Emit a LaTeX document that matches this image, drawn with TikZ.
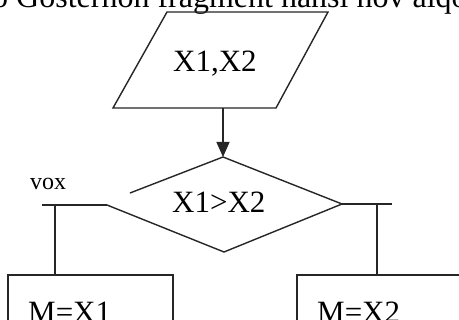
\documentclass[tikz,border=0pt]{standalone}
\usepackage{fontspec}
\setmainfont{Liberation Serif}
\usetikzlibrary{arrows.meta}
\begin{document}
\begin{tikzpicture}[x=1pt,y=-1pt,
  ln/.style={line width=1.4pt,draw=black!85},
  lbl/.style={inner sep=0pt,anchor=base west,font=\fontsize{31}{31}\selectfont}]
\useasboundingbox (0,0) rectangle (459,320);
\clip (0,0) rectangle (459,320);
\fill[white] (0,0) rectangle (459,320);
% header line (cut off)
\node[inner sep=0pt,anchor=base west,font=\fontsize{32}{32}\selectfont] (hdr) at (-8,8) {o Gosternon fragment nansi nov alqo};
% parallelogram
\draw[ln] (167,12) -- (328,12) -- (276,108) -- (113,108) -- cycle;
\node[lbl] (in) at (173,72) {X1,X2};
\coordinate (inb) at (223,108);
% decision
\coordinate (dt) at (223,157);
\coordinate (dl) at (107,205);
\coordinate (dr) at (342,204);
\coordinate (db) at (224,252);
\draw[ln] (130,193) -- (dt) -- (dr) -- (db) -- (dl);
\node[lbl] (cond) at (172,213) {X1>X2};
\draw[ln,-{Triangle[length=15pt,width=13pt]}] (inb) -- (dt);
% left branch
\coordinate (ll) at (42,205);
\coordinate (lj) at (55,205);
\draw[ln] (dl) -- (ll);
\node[inner sep=0pt,anchor=base west,font=\fontsize{24}{24}\selectfont] (vox) at (30,190) {vox};
\draw[ln] (lj) -- (55,275);
\draw[ln] (8,321) -- (8,275) -- (173,275) -- (173,321);
\node[lbl] (m1) at (28,323) {M=X1};
% right branch
\coordinate (rr) at (392,204);
\draw[ln] (dr) -- (rr);
\draw[ln] (377,204) -- (377,275);
\draw[ln] (297,321) -- (297,275) -- (461,275);
\node[lbl] (m2) at (317,323) {M=X2};
\end{tikzpicture}
\end{document}
